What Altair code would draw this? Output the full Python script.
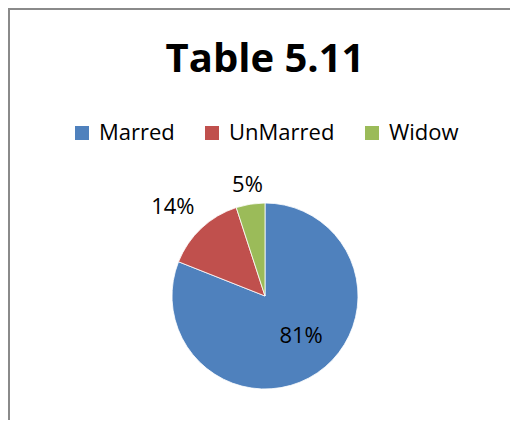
import altair as alt
import pandas as pd

categories = ["Marred", "UnMarred", "Widow"]
values = [81, 14, 5]
labels = ["81%", "14%", "5%"]
order_idx = [0, 1, 2]
colors = ["#4F81BD", "#C0504D", "#9BBB59"]
title_text = ["Table 5.11"]

df = pd.DataFrame({"cat": categories, "val": values, "lab": labels, "ord": order_idx})
one = pd.DataFrame({"t": title_text})

FONT = "Open Sans"
CX, CY = 257, 288
W, H = 502, 412

pie = alt.Chart(df).mark_arc(outerRadius=93, stroke="white", strokeWidth=0.8).encode(
    theta=alt.Theta("val:Q", stack=True),
    order=alt.Order("ord:Q"),
    x=alt.value(CX), y=alt.value(CY),
    color=alt.Color(
        "cat:N",
        scale=alt.Scale(domain=categories, range=colors),
        sort=categories,
        legend=alt.Legend(
            title=None, orient="none", direction="horizontal",
            legendX=63, legendY=114,
            symbolType="square", symbolSize=196, symbolStrokeWidth=0,
            labelFont=FONT, labelFontSize=22, labelColor="#000",
            labelOffset=6, columnPadding=26, symbolOpacity=1,
        ),
    ),
)

label_style = {"Marred": (54, -0.136), "UnMarred": (128, -0.05), "Widow": (112, 0.0)}
stacked = alt.Chart(df).transform_stack(
    stack="val", groupby=[], as_=["v0", "v1"], sort=[alt.SortField("ord")]
).transform_calculate(mid="(datum.v0 + datum.v1) / 2")
texts = []
for c in categories:
    r, off = label_style[c]
    texts.append(
        stacked.transform_filter(alt.datum.cat == c)
        .mark_text(radius=r, thetaOffset=off, font=FONT, fontSize=22, color="#000")
        .encode(
            x=alt.value(CX), y=alt.value(CY),
            theta=alt.Theta("mid:Q", scale=alt.Scale(domain=[0, 100], range=[0, 6.283185307])),
            text="lab:N",
        )
    )

title = alt.Chart(one).mark_text(
    font=FONT, fontSize=40, fontWeight="bold", color="#000"
).encode(x=alt.value(CX), y=alt.value(52), text="t:N")

frame = alt.Chart(one).mark_rect(
    filled=False, stroke="#8a8a8a", strokeWidth=2
).encode(
    x=alt.value(1), x2=alt.value(W + 30), y=alt.value(1), y2=alt.value(H + 30)
)

chart = alt.layer(pie, *texts, title, frame).properties(
    width=W, height=H,
    autosize=alt.AutoSizeParams(type="none"),
    padding=0,
).configure_view(stroke="transparent", strokeWidth=0)

chart.save("out.html", embed_options={"renderer": "svg", "actions": False})
